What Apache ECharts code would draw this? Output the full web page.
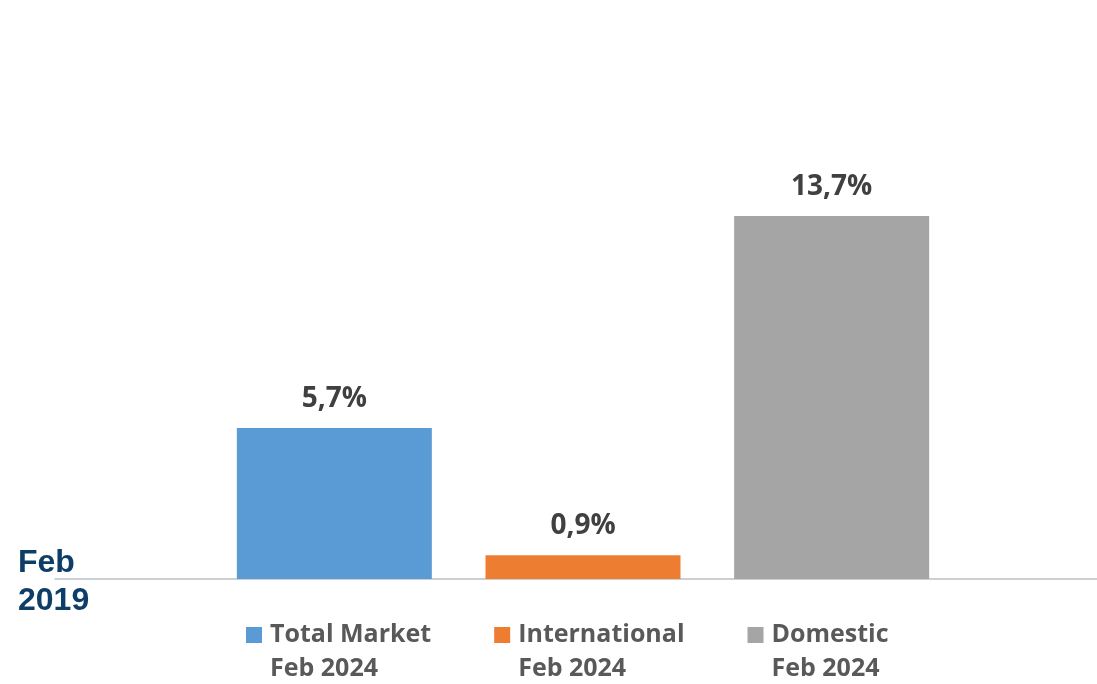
<!DOCTYPE html>
<html>
<head>
<meta charset="utf-8">
<script src="https://cdn.jsdelivr.net/npm/echarts@6/dist/echarts.min.js"></script>
<style>html,body{margin:0;padding:0;background:#fff;}#c{width:1097px;height:684px;}</style>
</head>
<body>
<div id="c"></div>
<script>
const categories = ['Total Market\nFeb 2024', 'International\nFeb 2024', 'Domestic\nFeb 2024'];
const values = [5.7, 0.9, 13.7];
const colors = ['#5b9bd5', '#ed7d31', '#a5a5a5'];
const baseLabel = 'Feb\n2019';

const chart = echarts.init(document.getElementById('c'));
const series = categories.map((name, i) => ({
  name: name,
  type: 'bar',
  stack: 'all',
  barWidth: 195,
  xAxisIndex: 0,
  yAxisIndex: 0,
  itemStyle: { color: colors[i] },
  data: categories.map((c, j) => j === i ? values[i] : '-'),
  label: {
    show: true,
    position: 'top',
    distance: 15,
    formatter: p => String(p.value).replace('.', ',') + '%',
    fontFamily: 'Open Sans',
    fontWeight: 'bold',
    fontSize: 28,
    color: '#404040'
  }
}));
series.push({ type: 'bar', xAxisIndex: 1, yAxisIndex: 1, data: [], silent: true });

chart.setOption({
  animation: false,
  backgroundColor: '#ffffff',
  title: {
    text: baseLabel,
    left: 13,
    top: 539,
    textStyle: { fontFamily: 'Liberation Sans', fontWeight: 'bold', fontSize: 32, lineHeight: 38, color: '#0e3e67' }
  },
  legend: {
    left: 246,
    top: 618,
    padding: 0,
    itemWidth: 16,
    itemHeight: 50,
    itemGap: 63,
    icon: 'path://M0,0L16,0L16,16L0,16Z M0,50L0,50',
    textStyle: { fontFamily: 'Open Sans', fontWeight: 'bold', fontSize: 25, lineHeight: 34, color: '#595959', padding: [0,0,0,3] },
    data: categories
  },
  grid: [
    { left: 210, right: 141, top: 49, bottom: 105 },
    { left: 55, right: 0, top: 49, bottom: 105 }
  ],
  xAxis: [
    { type: 'category', gridIndex: 0, data: categories, axisLine: { show: false }, axisTick: { show: false }, axisLabel: { show: false } },
    { type: 'value', gridIndex: 1, min: 0, max: 1, axisLine: { show: true, lineStyle: { color: '#bcc0c6', width: 1.5 } }, axisTick: { show: false }, axisLabel: { show: false }, splitLine: { show: false } }
  ],
  yAxis: [
    { type: 'value', gridIndex: 0, min: 0, max: 20, show: false },
    { type: 'value', gridIndex: 1, min: 0, max: 20, show: false }
  ],
  series: series
});
</script>
</body>
</html>
